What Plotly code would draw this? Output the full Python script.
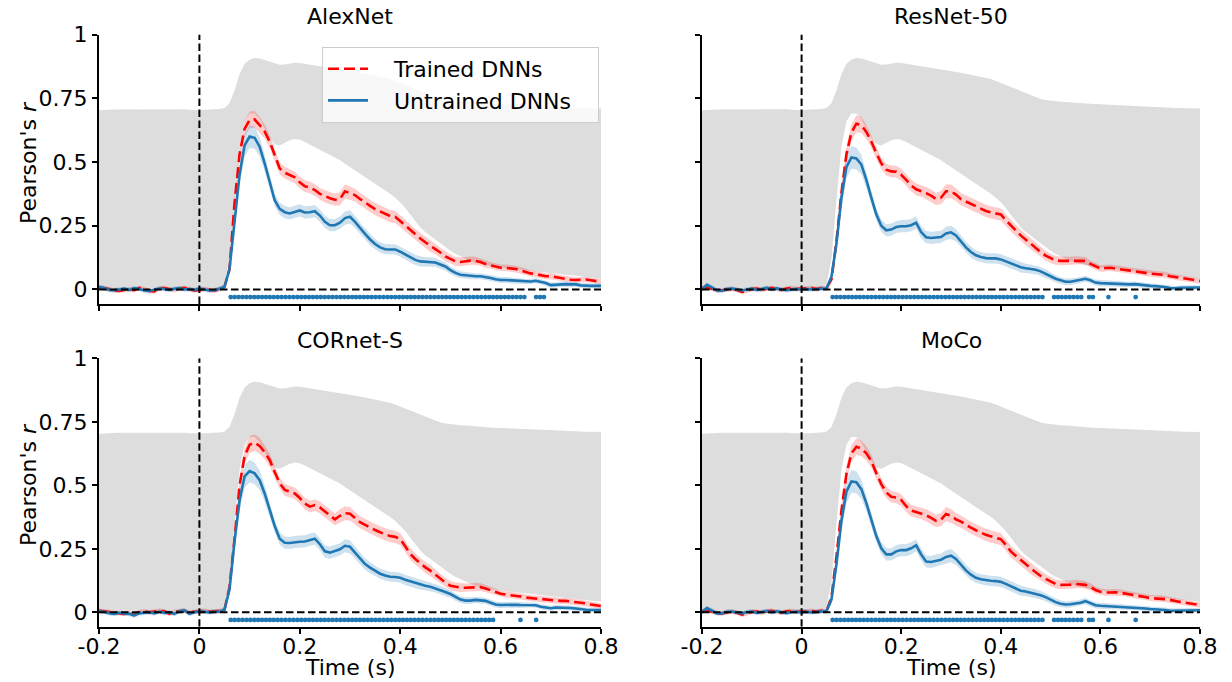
import plotly.graph_objects as go

# ---------------- data ----------------
times = [round(-0.2 + 0.01 * i, 2) for i in range(101)]

# noise ceiling (shared by all panels)
ceil_upper = [0.703, 0.705, 0.705, 0.706, 0.707, 0.707, 0.708, 0.707, 0.706, 0.706,
              0.707, 0.708, 0.707, 0.706, 0.706, 0.707, 0.708, 0.707, 0.705, 0.704,
              0.703, 0.705, 0.706, 0.707, 0.708,
              0.712, 0.73, 0.78, 0.845, 0.885, 0.902, 0.908, 0.906, 0.9, 0.893,
              0.886, 0.881, 0.882, 0.886, 0.889, 0.888, 0.885, 0.882, 0.879, 0.876,
              0.873, 0.87, 0.867, 0.864, 0.861, 0.857, 0.853, 0.85, 0.846, 0.842,
              0.838, 0.834, 0.83, 0.825, 0.818, 0.81, 0.802, 0.793, 0.784, 0.776,
              0.768, 0.76, 0.753, 0.747, 0.743, 0.74, 0.738, 0.736, 0.735, 0.733,
              0.731, 0.73, 0.729, 0.728, 0.727, 0.726, 0.725, 0.724, 0.722, 0.721,
              0.72, 0.719, 0.718, 0.717, 0.716, 0.715, 0.714, 0.714, 0.713, 0.713,
              0.712, 0.712, 0.711, 0.711, 0.71, 0.71]
ceil_lower = [0.006] * 25 + [
              0.02, 0.12, 0.35, 0.56, 0.66, 0.69, 0.69, 0.67, 0.63, 0.595,
              0.57, 0.565, 0.575, 0.585, 0.59, 0.587, 0.578, 0.568, 0.56, 0.55,
              0.54, 0.53, 0.52, 0.507, 0.493, 0.48, 0.468, 0.455, 0.442, 0.43,
              0.417, 0.403, 0.39, 0.375, 0.36, 0.342, 0.32, 0.295, 0.267, 0.243,
              0.225, 0.21, 0.195, 0.18, 0.166, 0.152, 0.14, 0.13, 0.12, 0.112,
              0.105, 0.1, 0.096, 0.092, 0.089, 0.086, 0.083, 0.081, 0.079, 0.077,
              0.075, 0.073, 0.071, 0.069, 0.067, 0.065, 0.063, 0.061, 0.059, 0.057,
              0.055, 0.053, 0.051, 0.048, 0.045, 0.042]

# standard-error half widths
trained_sem = [0.009] * 25 + [
               0.009, 0.014, 0.022, 0.028, 0.031, 0.033, 0.033, 0.031, 0.028, 0.025] + [0.023] * 10 + [
               0.024, 0.024, 0.024, 0.026, 0.028, 0.027, 0.025, 0.024, 0.024, 0.024,
               0.024, 0.024, 0.024, 0.024, 0.024, 0.024, 0.023, 0.023, 0.022, 0.022,
               0.022, 0.022, 0.02, 0.02, 0.019, 0.018, 0.017, 0.017, 0.016, 0.016,
               0.016, 0.015, 0.015, 0.014, 0.014, 0.013, 0.013, 0.013, 0.013, 0.013] + [0.012] * 10 + [0.011] * 6
untrained_sem = [0.009] * 25 + [
                 0.009, 0.017, 0.032, 0.042, 0.045, 0.045, 0.043, 0.038, 0.032, 0.027] + [0.024] * 10 + [
                 0.024, 0.024, 0.024, 0.024, 0.026, 0.026, 0.024, 0.022, 0.022, 0.022] + [0.02] * 10 + [
                 0.018, 0.018, 0.017, 0.017, 0.016, 0.015, 0.014, 0.013, 0.013, 0.013] + [0.012] * 10 + [0.01] * 10 + [0.009] * 6

alexnet_trained = [0.008, 0.006, 0.002, -0.004, -0.006, -0.002, 0.001, -0.003, 0.006, 0.002,
                   -0.006, -0.008, 0.004, 0.006, 0.0, -0.003, 0.004, 0.006, 0.001, -0.004,
                   -0.003, 0.003, -0.002, -0.004, 0.0,
                   0.01, 0.08, 0.34, 0.53, 0.63, 0.665, 0.667, 0.645, 0.62, 0.58,
                   0.53, 0.475, 0.458, 0.45, 0.44, 0.42, 0.405, 0.40, 0.39, 0.375,
                   0.365, 0.358, 0.352, 0.355, 0.385, 0.378, 0.37, 0.355, 0.34, 0.328,
                   0.315, 0.305, 0.295, 0.288, 0.285, 0.268, 0.25, 0.233, 0.215, 0.2,
                   0.185, 0.17, 0.158, 0.145, 0.13, 0.12, 0.11, 0.108, 0.111, 0.113,
                   0.112, 0.108, 0.1, 0.094, 0.088, 0.085, 0.085, 0.083, 0.08, 0.075,
                   0.068, 0.063, 0.06, 0.055, 0.052, 0.052, 0.048, 0.043, 0.04, 0.038,
                   0.037, 0.038, 0.039, 0.036, 0.033, 0.03]
alexnet_untrained = [0.01, 0.006, -0.002, -0.003, 0.0, 0.003, -0.002, 0.005, 0.002, -0.004,
                     -0.006, 0.0, 0.004, 0.002, -0.002, 0.003, 0.005, 0.0, 0.002, -0.002,
                     0.004, 0.0, -0.004, -0.003, 0.002,
                     0.01, 0.08, 0.27, 0.45, 0.565, 0.60, 0.595, 0.56, 0.495, 0.42,
                     0.35, 0.316, 0.303, 0.298, 0.305, 0.31, 0.302, 0.303, 0.307, 0.29,
                     0.265, 0.252, 0.252, 0.262, 0.28, 0.285, 0.265, 0.24, 0.218, 0.196,
                     0.178, 0.165, 0.158, 0.157, 0.157, 0.148, 0.138, 0.126, 0.116, 0.11,
                     0.108, 0.108, 0.106, 0.098, 0.09, 0.076, 0.065, 0.058, 0.055, 0.053,
                     0.052, 0.052, 0.049, 0.045, 0.04, 0.037, 0.037, 0.036, 0.034, 0.031,
                     0.03, 0.031, 0.034, 0.03, 0.025, 0.017, 0.018, 0.021, 0.021, 0.02,
                     0.02, 0.016, 0.014, 0.014, 0.014, 0.014]
resnet_trained = [0.005, 0.008, 0.003, -0.004, -0.003, 0.0, 0.002, -0.002, -0.01, -0.006,
                  0.002, 0.004, -0.002, 0.003, 0.006, 0.002, -0.002, 0.004, 0.006, 0.002,
                  0.003, 0.004, 0.006, 0.002, 0.006,
                  0.005, 0.04, 0.19, 0.38, 0.53, 0.615, 0.65, 0.645, 0.618, 0.58,
                  0.535, 0.495, 0.47, 0.463, 0.462, 0.45, 0.43, 0.408, 0.393, 0.387,
                  0.378, 0.368, 0.355, 0.36, 0.385, 0.385, 0.372, 0.354, 0.345, 0.337,
                  0.326, 0.316, 0.308, 0.302, 0.299, 0.294, 0.272, 0.25, 0.232, 0.212,
                  0.195, 0.18, 0.163, 0.147, 0.133, 0.122, 0.114, 0.112, 0.112, 0.112,
                  0.114, 0.114, 0.112, 0.1, 0.09, 0.082, 0.084, 0.085, 0.082, 0.08,
                  0.077, 0.074, 0.071, 0.069, 0.065, 0.062, 0.06, 0.059, 0.057, 0.052,
                  0.048, 0.046, 0.043, 0.04, 0.036, 0.033]
resnet_untrained = [0.002, 0.018, 0.008, -0.004, -0.005, 0.002, 0.004, 0.0, -0.004, 0.0,
                    0.003, -0.002, 0.002, 0.006, 0.0, 0.004, 0.0, -0.003, 0.0, 0.002,
                    0.0, 0.002, 0.0, 0.002, 0.003,
                    0.005, 0.05, 0.18, 0.36, 0.48, 0.518, 0.514, 0.49, 0.43, 0.36,
                    0.295, 0.25, 0.232, 0.235, 0.245, 0.248, 0.248, 0.252, 0.262, 0.225,
                    0.205, 0.202, 0.204, 0.206, 0.22, 0.224, 0.212, 0.188, 0.165, 0.147,
                    0.134, 0.127, 0.123, 0.122, 0.122, 0.118, 0.11, 0.102, 0.094, 0.087,
                    0.083, 0.08, 0.077, 0.071, 0.063, 0.052, 0.042, 0.035, 0.03, 0.03,
                    0.033, 0.037, 0.042, 0.036, 0.027, 0.025, 0.024, 0.024, 0.023, 0.021,
                    0.02, 0.02, 0.021, 0.018, 0.016, 0.014, 0.013, 0.012, 0.01, 0.006,
                    0.005, 0.007, 0.008, 0.008, 0.008, 0.008]
cornet_trained = [0.006, 0.004, 0.0, -0.002, -0.004, -0.006, -0.002, -0.01, 0.0, 0.004,
                  0.0, 0.002, 0.006, 0.004, -0.006, 0.002, 0.004, 0.006, 0.0, 0.003,
                  0.004, 0.006, 0.002, 0.004, 0.005,
                  0.01, 0.1, 0.29, 0.5, 0.615, 0.66, 0.668, 0.655, 0.63, 0.6,
                  0.552, 0.508, 0.482, 0.474, 0.468, 0.45, 0.428, 0.416, 0.422, 0.413,
                  0.398, 0.382, 0.366, 0.38, 0.39, 0.388, 0.37, 0.355, 0.344, 0.333,
                  0.324, 0.315, 0.306, 0.3, 0.297, 0.288, 0.26, 0.23, 0.21, 0.192,
                  0.177, 0.164, 0.148, 0.132, 0.117, 0.105, 0.1, 0.097, 0.097, 0.098,
                  0.1, 0.099, 0.094, 0.087, 0.08, 0.073, 0.07, 0.068, 0.065, 0.062,
                  0.058, 0.056, 0.054, 0.051, 0.05, 0.048, 0.045, 0.045, 0.045, 0.043,
                  0.04, 0.038, 0.035, 0.031, 0.028, 0.025]
cornet_untrained = [0.004, 0.002, -0.004, -0.006, -0.002, -0.004, -0.006, -0.012, -0.004, -0.002,
                    0.0, -0.004, 0.002, -0.002, 0.0, -0.006, 0.004, 0.008, -0.006, 0.0,
                    0.004, 0.002, 0.0, 0.002, 0.003,
                    0.01, 0.09, 0.28, 0.44, 0.535, 0.556, 0.547, 0.52, 0.468, 0.403,
                    0.34, 0.29, 0.274, 0.273, 0.277, 0.278, 0.279, 0.286, 0.29, 0.268,
                    0.24, 0.235, 0.241, 0.248, 0.262, 0.258, 0.235, 0.212, 0.19, 0.176,
                    0.163, 0.152, 0.145, 0.14, 0.139, 0.136, 0.128, 0.122, 0.115, 0.109,
                    0.105, 0.101, 0.095, 0.088, 0.08, 0.072, 0.06, 0.05, 0.046, 0.046,
                    0.049, 0.048, 0.045, 0.038, 0.031, 0.029, 0.03, 0.031, 0.03, 0.029,
                    0.029, 0.03, 0.028, 0.022, 0.018, 0.016, 0.019, 0.019, 0.018, 0.017,
                    0.015, 0.012, 0.01, 0.009, 0.009, 0.009]
moco_trained = [0.004, 0.007, 0.002, -0.003, -0.004, 0.0, 0.003, -0.002, -0.009, -0.005,
                0.002, 0.003, -0.002, 0.004, 0.006, 0.001, -0.002, 0.004, 0.005, 0.002,
                0.003, 0.004, 0.005, 0.003, 0.006,
                0.005, 0.06, 0.22, 0.4, 0.545, 0.625, 0.652, 0.645, 0.626, 0.595,
                0.548, 0.505, 0.472, 0.455, 0.452, 0.442, 0.418, 0.4, 0.395, 0.39,
                0.382, 0.372, 0.36, 0.365, 0.387, 0.38, 0.366, 0.357, 0.344, 0.333,
                0.323, 0.313, 0.305, 0.299, 0.294, 0.288, 0.266, 0.24, 0.223, 0.205,
                0.19, 0.173, 0.158, 0.143, 0.132, 0.121, 0.112, 0.108, 0.108, 0.109,
                0.112, 0.111, 0.108, 0.1, 0.088, 0.081, 0.078, 0.078, 0.079, 0.077,
                0.074, 0.069, 0.066, 0.063, 0.06, 0.056, 0.055, 0.055, 0.052, 0.049,
                0.044, 0.041, 0.038, 0.035, 0.031, 0.029]
moco_untrained = [0.002, 0.017, 0.007, -0.004, -0.004, 0.002, 0.003, 0.0, -0.004, 0.001,
                  0.003, -0.002, 0.002, 0.005, 0.0, 0.004, 0.0, -0.003, 0.001, 0.002,
                  0.0, 0.002, 0.0, 0.002, 0.003,
                  0.005, 0.05, 0.19, 0.36, 0.475, 0.515, 0.512, 0.485, 0.43, 0.365,
                  0.3, 0.252, 0.228, 0.228, 0.24, 0.245, 0.245, 0.252, 0.264, 0.228,
                  0.2, 0.198, 0.204, 0.207, 0.218, 0.223, 0.21, 0.188, 0.165, 0.148,
                  0.136, 0.13, 0.126, 0.124, 0.123, 0.12, 0.112, 0.102, 0.093, 0.085,
                  0.082, 0.078, 0.074, 0.067, 0.06, 0.049, 0.04, 0.034, 0.031, 0.032,
                  0.035, 0.038, 0.044, 0.035, 0.028, 0.026, 0.025, 0.024, 0.022, 0.021,
                  0.02, 0.019, 0.019, 0.017, 0.015, 0.013, 0.012, 0.011, 0.009, 0.006,
                  0.006, 0.007, 0.007, 0.008, 0.008, 0.008]

# significant intervals (s) of trained vs untrained difference, sampled at sig_step
sig_step = 0.0078
alexnet_sig = [(0.062, 0.645), (0.671, 0.686)]
resnet_sig = [(0.061, 0.484), (0.505, 0.558), (0.577, 0.586), (0.614, 0.614), (0.674, 0.674)]
cornet_sig = [(0.060, 0.586), (0.643, 0.643), (0.672, 0.672)]
moco_sig = [(0.061, 0.484), (0.505, 0.558), (0.577, 0.586), (0.614, 0.614), (0.674, 0.674)]
sig_level = -0.03

model_names = ["AlexNet", "ResNet-50", "CORnet-S", "MoCo"]
legend_labels = ["Trained DNNs", "Untrained DNNs"]
x_ticks = [-0.2, 0, 0.2, 0.4, 0.6, 0.8]
x_tick_text = ["-0.2", "0", "0.2", "0.4", "0.6", "0.8"]
y_ticks = [0, 0.25, 0.5, 0.75, 1]
y_tick_text = ["0", "0.25", "0.5", "0.75", "1"]

# ---------------- figure ----------------
RED = "#ff0000"
BLUE = "#1f77b4"
FONT = "DejaVu Sans"
FS = 22
PAD = "\u00a0\u00a0\u00a0"

panels = [
    dict(name=model_names[0], tr=alexnet_trained, un=alexnet_untrained, sig=alexnet_sig, ax=""),
    dict(name=model_names[1], tr=resnet_trained, un=resnet_untrained, sig=resnet_sig, ax="2"),
    dict(name=model_names[2], tr=cornet_trained, un=cornet_untrained, sig=cornet_sig, ax="3"),
    dict(name=model_names[3], tr=moco_trained, un=moco_untrained, sig=moco_sig, ax="4"),
]

W, H = 1232, 682
xdom_l = [99 / W, 601 / W]
xdom_r = [702 / W, 1200 / W]
ydom_t = [1 - 304 / H, 1 - 34.5 / H]
ydom_b = [1 - 626.8 / H, 1 - 358.3 / H]
YR = [-0.057, 1.0]

fig = go.Figure()

def sig_times(intervals):
    out = []
    k = 0
    while k * sig_step <= 0.8:
        tk = k * sig_step
        for a, b in intervals:
            if a - sig_step / 2 <= tk <= b + sig_step / 2:
                out.append(tk)
                break
        k += 1
    return out

for i, p in enumerate(panels):
    xa, ya = "x" + p["ax"], "y" + p["ax"]
    # noise ceiling
    fig.add_trace(go.Scatter(x=times, y=ceil_lower, mode="lines", line=dict(width=0),
                             hoverinfo="skip", showlegend=False, xaxis=xa, yaxis=ya))
    fig.add_trace(go.Scatter(x=times, y=ceil_upper, mode="lines", line=dict(width=0),
                             fill="tonexty", fillcolor="#dddddd",
                             hoverinfo="skip", showlegend=False, xaxis=xa, yaxis=ya))
    # SEM bands
    for series, sem, col in ((p["tr"], trained_sem, "rgba(255,0,0,0.2)"),
                             (p["un"], untrained_sem, "rgba(31,119,180,0.22)")):
        lo = [v - s for v, s in zip(series, sem)]
        hi = [v + s for v, s in zip(series, sem)]
        fig.add_trace(go.Scatter(x=times, y=lo, mode="lines", line=dict(width=0),
                                 hoverinfo="skip", showlegend=False, xaxis=xa, yaxis=ya))
        fig.add_trace(go.Scatter(x=times, y=hi, mode="lines", line=dict(width=0),
                                 fill="tonexty", fillcolor=col,
                                 hoverinfo="skip", showlegend=False, xaxis=xa, yaxis=ya))
    # means
    fig.add_trace(go.Scatter(x=times, y=p["tr"], mode="lines", name=PAD + legend_labels[0] + PAD,
                             line=dict(color=RED, width=2.6, dash="11px,5px"),
                             showlegend=(i == 0), xaxis=xa, yaxis=ya))
    fig.add_trace(go.Scatter(x=times, y=p["un"], mode="lines", name=PAD + legend_labels[1] + PAD,
                             line=dict(color=BLUE, width=2.6),
                             showlegend=(i == 0), xaxis=xa, yaxis=ya))
    # reference lines
    fig.add_trace(go.Scatter(x=[-0.2, 0.8], y=[0, 0], mode="lines",
                             line=dict(color="black", width=2, dash="7.5px,3.5px"),
                             hoverinfo="skip", showlegend=False, xaxis=xa, yaxis=ya))
    fig.add_trace(go.Scatter(x=[0, 0], y=[YR[0], YR[1]], mode="lines",
                             line=dict(color="black", width=2, dash="7.5px,3.5px"),
                             hoverinfo="skip", showlegend=False, xaxis=xa, yaxis=ya))
    # significance dots
    st = sig_times(p["sig"])
    fig.add_trace(go.Scatter(x=st, y=[sig_level] * len(st), mode="markers",
                             marker=dict(color=BLUE, size=4.8, line=dict(width=0)),
                             hoverinfo="skip", showlegend=False, xaxis=xa, yaxis=ya))

axis_common = dict(showline=True, linecolor="black", linewidth=2, ticks="outside",
                   ticklen=5, tickwidth=2, tickcolor="black", showgrid=False, zeroline=False,
                   automargin=False, mirror=False,
                   tickfont=dict(family=FONT, size=FS, color="black"))

layout = dict(width=W, height=H, margin=dict(l=0, r=0, t=0, b=0, autoexpand=False),
              paper_bgcolor="white", plot_bgcolor="white",
              font=dict(family=FONT, size=FS, color="black"))
doms = [(xdom_l, ydom_t, True, False), (xdom_r, ydom_t, False, False),
        (xdom_l, ydom_b, True, True), (xdom_r, ydom_b, False, True)]
for i, (xd, yd, ylab, xlab) in enumerate(doms):
    suf = "" if i == 0 else str(i + 1)
    anc = "" if i == 0 else str(i + 1)
    layout["xaxis" + suf] = dict(axis_common, domain=xd, range=[-0.2, 0.8], anchor="y" + anc,
                                 tickvals=x_ticks, ticktext=x_tick_text, showticklabels=xlab)
    layout["yaxis" + suf] = dict(axis_common, domain=yd, range=YR, anchor="x" + anc,
                                 tickvals=y_ticks, ticktext=y_tick_text, showticklabels=ylab)
fig.update_layout(**layout)
try:
    fig.update_xaxes(ticklabelstandoff=-6)
except Exception:
    pass

fig.update_layout(legend=dict(x=322 / W, y=1 - 47 / H, xanchor="left", yanchor="top",
                              traceorder="normal", itemwidth=40, tracegroupgap=0,
                              bgcolor="rgba(255,255,255,0.8)", bordercolor="#cccccc",
                              borderwidth=1, font=dict(family=FONT, size=FS, color="black")))

annotations = []
title_pos = [(350, 17), (951, 17), (350, 340), (951, 340)]
for name, (px, py) in zip(model_names, title_pos):
    annotations.append(dict(text=name, x=px / W, y=1 - py / H, xref="paper", yref="paper",
                            showarrow=False, xanchor="center", yanchor="middle",
                            font=dict(family=FONT, size=FS, color="black")))
for py in (163, 485):
    annotations.append(dict(text="Pearson's <i>r</i>", x=28 / W, y=1 - py / H, xref="paper",
                            yref="paper", showarrow=False, textangle=-90,
                            xanchor="center", yanchor="middle",
                            font=dict(family=FONT, size=FS, color="black")))
for px in (350, 951):
    annotations.append(dict(text="Time (s)", x=px / W, y=1 - 667 / H, xref="paper",
                            yref="paper", showarrow=False, xanchor="center", yanchor="middle",
                            font=dict(family=FONT, size=FS, color="black")))
fig.update_layout(annotations=annotations)

fig.write_html("out.html")
